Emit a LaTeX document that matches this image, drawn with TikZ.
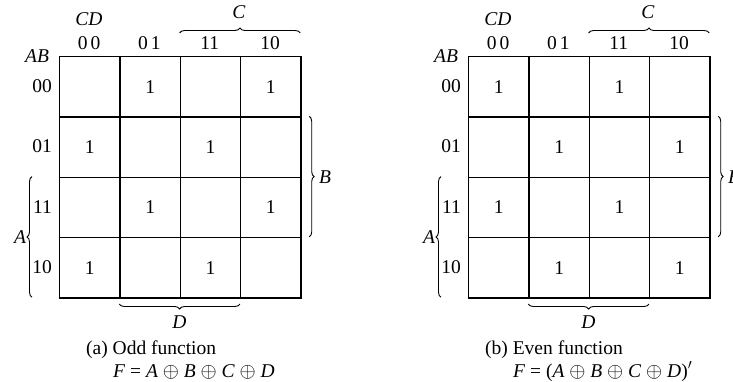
\documentclass[tikz,border=0pt]{standalone}
\usepackage{fontspec}
\setmainfont{Liberation Serif}
\usetikzlibrary{decorations.pathreplacing}
\begin{document}
\begin{tikzpicture}[x=1pt,y=-1pt,
  txt/.style={inner sep=0pt, font=\fontsize{19.5}{22}\selectfont},
  cell/.style={draw, line width=1.4pt, minimum width=60.3pt, minimum height=60.3pt, inner sep=0pt, anchor=north west},
  brc/.style={decorate, decoration={brace, amplitude=5pt}, line width=0.9pt}]
\useasboundingbox (0,0) rectangle (733,381);
\fill[white] (0,0) rectangle (733,381);
% grids
\foreach \m/\ox in {a/59,b/468}{
  \foreach \r in {0,...,3}{
    \foreach \c in {0,...,3}{
      \node[cell] (\m-\r-\c) at ({\ox+\c*60.3},{56+\r*60.3}) {};
    }
  }
  % column labels
  \foreach \c/\t in {0/{0\hspace{3pt}0},1/{0\hspace{3pt}1},2/11,3/10}{
    \node[txt] (\m-col-\c) at ({\ox+(\c+0.5)*60.3},43) {\t};
  }
  % row labels
  \foreach \r/\t in {0/00,1/01,2/11,3/10}{
    \node[txt,anchor=east] (\m-row-\r) at ({\ox-7},{56+(\r+0.5)*60.3}) {\t};
  }
  \node[txt] (\m-CD) at ({\ox+30},19) {\textit{CD}};
  \node[txt] (\m-AB) at ({\ox-22},56) {\textit{AB}};
  \node[txt] (\m-C) at ({\ox+180},12.5) {\textit{C}};
  \node[txt] (\m-B) at ({\ox+266},177) {\textit{B}};
  \node[txt] (\m-A) at ({\ox-39},237) {\textit{A}};
  \node[txt] (\m-D) at ({\ox+120.5},322) {\textit{D}};
  % brace end points
  \coordinate (\m-c1) at ({\ox+2*60.3},33);
  \coordinate (\m-c2) at ({\ox+4*60.3},33);
  \coordinate (\m-b1) at ({\ox+4*60.3+9},{56+60.3});
  \coordinate (\m-b2) at ({\ox+4*60.3+9},{56+3*60.3});
  \coordinate (\m-a1) at ({\ox-27},{56+4*60.3});
  \coordinate (\m-a2) at ({\ox-27},{56+2*60.3});
  \coordinate (\m-d1) at ({\ox+3*60.3},304);
  \coordinate (\m-d2) at ({\ox+1*60.3},304);
  \draw[brc] (\m-c1) -- (\m-c2);
  \draw[brc] (\m-b1) -- (\m-b2);
  \draw[brc] (\m-a1) -- (\m-a2);
  \draw[brc] (\m-d1) -- (\m-d2);
}
% ones
\foreach \r/\c in {0/1,0/3,1/0,1/2,2/1,2/3,3/0,3/2}{
  \node[txt] (a-one-\r-\c) at (a-\r-\c) {1};
}
\foreach \r/\c in {0/0,0/2,1/1,1/3,2/0,2/2,3/1,3/3}{
  \node[txt] (b-one-\r-\c) at (b-\r-\c) {1};
}
% captions
\node[txt,anchor=base west] (capa) at (86,354) {(a) Odd function};
\node[txt,anchor=base west] (fa) at (113,377.5) {\textit{F} = \textit{A} $\oplus$ \textit{B} $\oplus$ \textit{C} $\oplus$ \textit{D}};
\node[txt,anchor=base west] (capb) at (485,354) {(b) Even function};
\node[txt,anchor=base west] (fb) at (513,377.5) {\textit{F} = (\textit{A} $\oplus$ \textit{B} $\oplus$ \textit{C} $\oplus$ \textit{D})$'$};
\end{tikzpicture}
\end{document}
